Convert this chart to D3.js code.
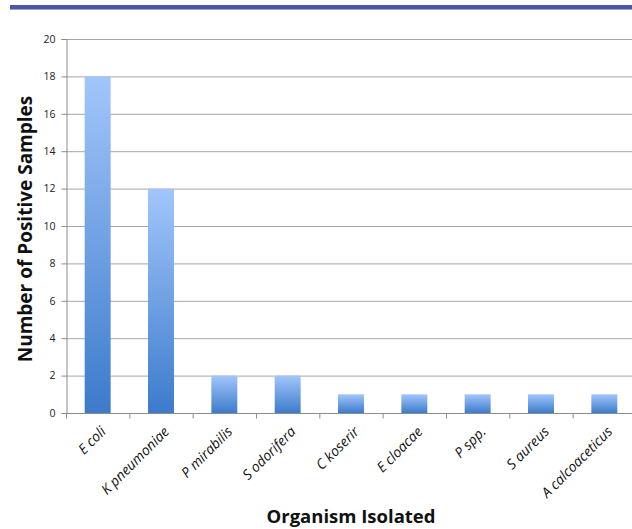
<!DOCTYPE html>
<html>
<head>
<meta charset="utf-8">
<script src="https://cdn.jsdelivr.net/npm/d3@7"></script>
<style>
  html, body { margin: 0; padding: 0; background: #fff; overflow: hidden; }
  svg { display: block; }
</style>
</head>
<body>
<script>
// Organisms isolated and their positive sample counts
const organisms = ["E coli", "K pneumoniae", "P mirabilis", "S odorifera", "C koserir",
                   "E cloacae", "P spp.", "S aureus", "A calcoaceticus"];
const positiveSamples = [18, 12, 2, 2, 1, 1, 1, 1, 1];
const yTicks = [0, 2, 4, 6, 8, 10, 12, 14, 16, 18, 20];

const W = 632, H = 529;
const plotLeft = 66, plotRight = 636, plotTop = 39, plotBottom = 413;
const FONT = "'Open Sans', 'Liberation Sans', sans-serif";

const svg = d3.select("body").append("svg")
  .attr("width", W).attr("height", H);

// Bar fill: light blue at the top, deeper blue at the base
const defs = svg.append("defs");
const grad = defs.append("linearGradient")
  .attr("id", "barFill").attr("x1", 0).attr("y1", 0).attr("x2", 0).attr("y2", 1);
grad.append("stop").attr("offset", "0%").attr("stop-color", "#a2c6fb");
grad.append("stop").attr("offset", "100%").attr("stop-color", "#3c7bcb");

// Header rule
svg.append("rect").attr("x", 10).attr("y", 5).attr("width", W - 10).attr("height", 4)
  .attr("fill", "#4a56a6");
svg.append("rect").attr("x", 10).attr("y", 9).attr("width", W - 10).attr("height", 1)
  .attr("fill", "#9aa3d6");

const x = d3.scaleBand().domain(organisms).range([plotLeft, plotRight]).paddingInner(0).paddingOuter(0);
const y = d3.scaleLinear().domain([0, 20]).range([plotBottom, plotTop]);

// Horizontal gridlines
svg.append("g")
  .selectAll("line").data(yTicks.filter(d => d > 0)).join("line")
  .attr("x1", plotLeft).attr("x2", plotRight)
  .attr("y1", d => y(d) + 0.5).attr("y2", d => y(d) + 0.5)
  .attr("stroke", "#a6a6a6").attr("stroke-width", 1);

// Y axis
const yAxis = svg.append("g")
  .attr("transform", `translate(${plotLeft + 0.5},0)`)
  .call(d3.axisLeft(y).tickValues(yTicks).tickSize(5).tickPadding(6));
yAxis.select(".domain").attr("stroke", "#8c8c8c");
yAxis.selectAll(".tick line").attr("stroke", "#8c8c8c");
yAxis.selectAll("text")
  .attr("font-family", FONT)
  .attr("font-size", 10.5).attr("fill", "#222");

// Bars
const barW = x.bandwidth() * 0.41;
svg.append("g")
  .selectAll("rect").data(organisms).join("rect")
  .attr("x", d => x(d) + (x.bandwidth() - barW) / 2)
  .attr("y", (d, i) => y(positiveSamples[i]))
  .attr("width", barW)
  .attr("height", (d, i) => y(0) - y(positiveSamples[i]))
  .attr("fill", "url(#barFill)");

// X axis with ticks at category boundaries
const xg = svg.append("g").attr("transform", `translate(0,${plotBottom + 0.5})`);
xg.append("line").attr("x1", plotLeft).attr("x2", plotRight).attr("y1", 0).attr("y2", 0)
  .attr("stroke", "#8c8c8c");
xg.selectAll("line.tk").data(organisms).join("line").attr("class", "tk")
  .attr("x1", d => x(d) + 0.5).attr("x2", d => x(d) + 0.5)
  .attr("y1", 0).attr("y2", 5).attr("stroke", "#8c8c8c");

// Category labels, rotated
xg.selectAll("text").data(organisms).join("text")
  .attr("transform", d => `translate(${x(d) + x.bandwidth() / 2 + 9},${19}) rotate(-45)`)
  .attr("text-anchor", "end")
  .attr("font-family", FONT)
  .attr("font-style", "italic")
  .attr("font-size", 14).attr("fill", "#111")
  .text(d => d);

// Axis titles
svg.append("text")
  .attr("transform", `translate(32,${(plotTop + plotBottom) / 2 + 3}) rotate(-90)`)
  .attr("text-anchor", "middle")
  .attr("font-family", FONT)
  .attr("font-weight", "bold").attr("font-size", 19).attr("fill", "#111")
  .text("Number of Positive Samples");

svg.append("text")
  .attr("x", (plotLeft + plotRight) / 2).attr("y", 523)
  .attr("text-anchor", "middle")
  .attr("font-family", FONT)
  .attr("font-weight", "bold").attr("font-size", 18.5).attr("fill", "#111")
  .text("Organism Isolated");
</script>
</body>
</html>
